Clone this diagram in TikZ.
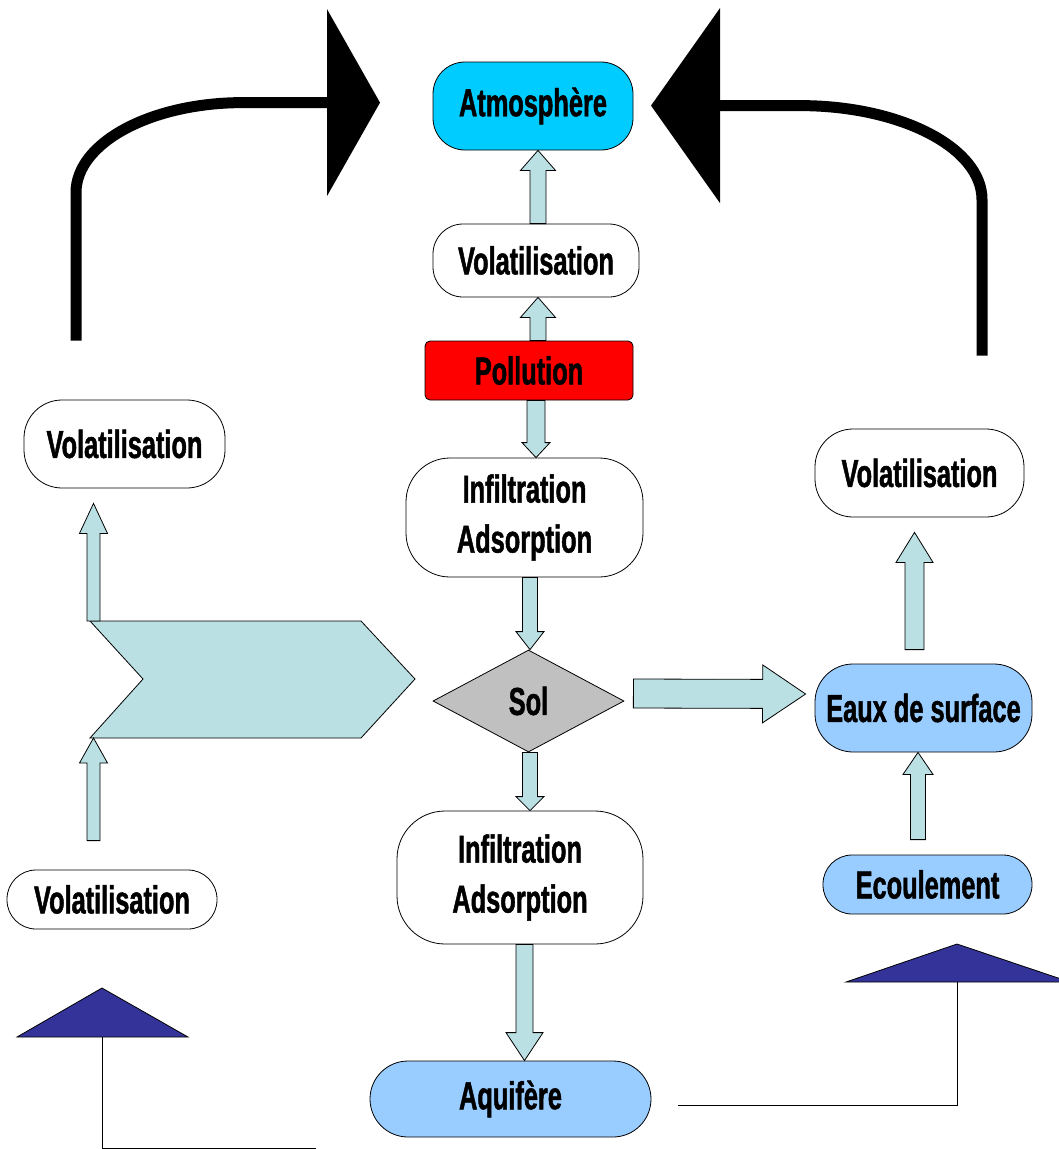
\documentclass[tikz,border=0pt]{standalone}
\usepackage{fontspec}
\setmainfont{Liberation Sans}[FakeStretch=0.65,FakeBold=1.2]
\usetikzlibrary{shapes.geometric,arrows.meta,calc}
\definecolor{flowteal}{HTML}{BBE0E3}
\definecolor{skyblue}{HTML}{00CCFF}
\definecolor{waterblue}{HTML}{99CCFF}
\definecolor{soilgray}{HTML}{C0C0C0}
\definecolor{roofblue}{HTML}{333399}
\newcommand{\boxfont}{\fontsize{39}{50}\selectfont\bfseries}
\tikzset{stage/.style n args={3}{draw,fill=white,line width=0.8pt,inner sep=0pt,align=center,
           font=\boxfont,minimum width=#1,minimum height=#2,rounded corners=#3},
         soil/.style={diamond,draw,fill=soilgray,line width=0.8pt,inner sep=0pt,font=\boxfont,
           minimum width=191pt,minimum height=102pt},
         flow/.style={draw,fill=flowteal,line width=0.8pt,line join=miter},
         bend arrow/.style 2 args={line width=11pt,-{Triangle[length=#1,width=#2,line width=0pt]}},
         roof/.style={draw,fill=roofblue,line width=0.8pt},
         link/.style={line width=1pt},
}
% block arrow: start, tip, half shaft, half head, head length
\newcommand{\fatarrow}[5]{%
  \coordinate (fab) at ($(#2)!#5!(#1)$);
  \draw[flow] ($(#1)!#3!90:(#2)$) -- ($(fab)!#3!-90:(#1)$) -- ($(fab)!#4!-90:(#1)$) -- (#2)
    -- ($(fab)!#4!90:(#1)$) -- ($(fab)!#3!90:(#1)$) -- ($(#1)!#3!-90:(#2)$) -- cycle;}

\begin{document}
\begin{tikzpicture}[x=1pt,y=-1pt]
\useasboundingbox (0,0) rectangle (1059,1149);

% centre column
\node[stage={200pt}{88pt}{32pt},fill=skyblue] (atm) at (533,106) {Atmosphère};
\node[stage={206pt}{73pt}{30pt}] (vtop) at (536,260.5) {Volatilisation};
\node[stage={208pt}{59pt}{5pt},fill=red] (poll) at (529,370.5) {Pollution};
\node[stage={237pt}{119pt}{44pt}] (inf1) at (524.5,517.5) {Infiltration\\Adsorption};
\node[soil] (sol) at (528.5,701) {Sol};
\node[stage={246pt}{133pt}{48pt}] (inf2) at (520,877.5) {Infiltration\\Adsorption};
\node[stage={281pt}{76pt}{38pt},fill=waterblue] (aq) at (510.5,1099) {Aquifère};

% left and right columns
\node[stage={201pt}{88pt}{38pt}] (vleft) at (124.5,444) {Volatilisation};
\node[stage={210pt}{59pt}{29pt}] (vbot) at (112,899.5) {Volatilisation};
\node[stage={209pt}{88pt}{38pt}] (vright) at (919.5,473) {Volatilisation};
\node[stage={217pt}{88pt}{38pt},fill=waterblue] (eaux) at (923.5,708) {Eaux de surface};
\node[stage={209pt}{59pt}{29pt},fill=waterblue] (ecoul) at (927.5,884.5) {Ecoulement};

% chevron
\draw[flow] (90,621) coordinate (chevtl) -- (361,621) -- (415,679) -- (361,738)
  -- (90,738) coordinate (chevbl) -- (143,679) -- cycle;

% block arrows
\fatarrow{[xshift=2pt]vtop.north}{[xshift=5pt]atm.south}{8pt}{17.5pt}{20pt}
\fatarrow{[xshift=9pt]poll.north}{[xshift=2pt]vtop.south}{8pt}{17.5pt}{20pt}
\fatarrow{[xshift=7pt]poll.south}{[xshift=11.5pt]inf1.north}{9pt}{14pt}{15pt}
\fatarrow{[xshift=5.5pt]inf1.south}{[xshift=1.5pt]sol.north}{7.5pt}{14pt}{18pt}
\fatarrow{[xshift=1.5pt]sol.south}{[xshift=10pt]inf2.north}{7.5pt}{14pt}{14pt}
\fatarrow{[xshift=4.5pt]inf2.south}{[xshift=14pt]aq.north}{8.5pt}{18.5pt}{28pt}
\fatarrow{[xshift=9pt,yshift=7.5pt]sol.east}{[xshift=-9pt,yshift=14pt]eaux.west}{14.5pt}{29pt}{43pt}
\fatarrow{[xshift=-9pt,yshift=14pt]eaux.north}{[xshift=-5pt,yshift=-15pt]vright.south}{9.5pt}{18.5pt}{30pt}
\fatarrow{[xshift=-9.5pt,yshift=15pt]ecoul.north}{[xshift=-5.5pt]eaux.south}{7.5pt}{15pt}{22pt}
\fatarrow{[xshift=3.5pt]chevtl}{[xshift=-31pt,yshift=-15pt]vleft.south}{6.5pt}{14pt}{30pt}
\fatarrow{[xshift=-18.5pt,yshift=29pt]vbot.north}{[xshift=3.5pt]chevbl}{6.5pt}{14pt}{25pt}

% big bent arrows to the atmosphere
\draw[bend arrow={53pt}{187pt}] ([xshift=-48.5pt,yshift=59pt]vleft.north) -- ++(0,-148)
  arc[start angle=180,end angle=270,x radius=167,y radius=90] -- ++(137,0);
\draw[bend arrow={69pt}{195pt}] ([xshift=62.5pt,yshift=73pt]vright.north) -- ++(0,-156)
  arc[start angle=0,end angle=-90,x radius=182,y radius=94] -- ++(-149,0);

% roofs
\draw[roof] (17,1037) -- (102,988) -- (188,1037) -- cycle;
\coordinate (lroof) at (102,1037);
\coordinate (lend) at (316,1148);
\draw[roof] (846,982) -- (957,944) -- (1070,982) -- cycle;
\coordinate (rroof) at (957,982);

\draw[link] (lroof) |- (lend);
\draw[link] ([xshift=27pt,yshift=-6pt]aq.east) -| (rroof);
\end{tikzpicture}
\end{document}
